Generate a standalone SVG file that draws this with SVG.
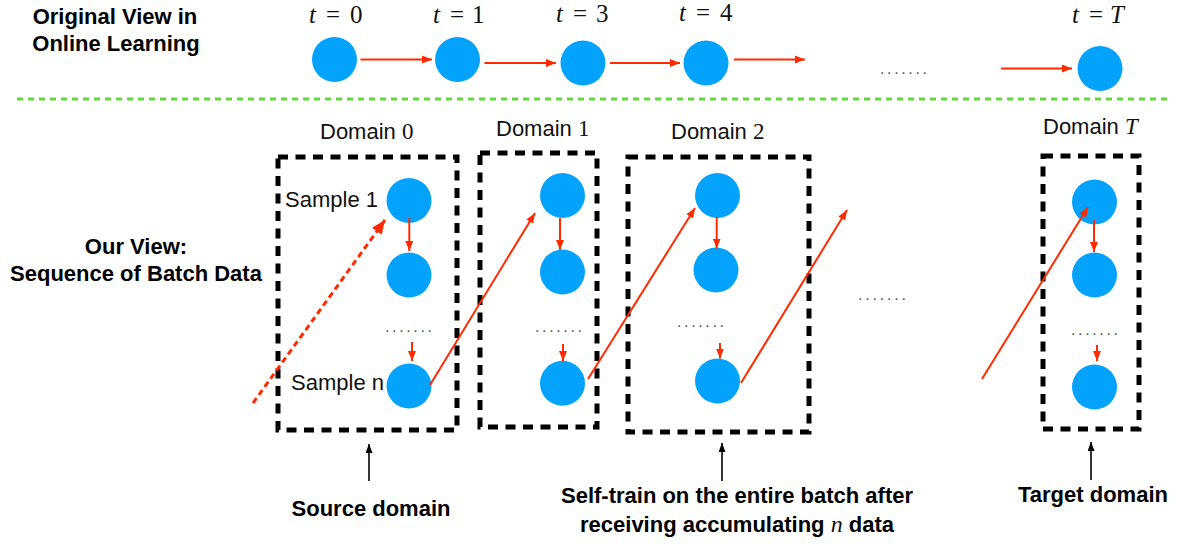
<svg xmlns="http://www.w3.org/2000/svg" width="1178" height="546" viewBox="0 0 1178 546">
<style>
.node{fill:#03a2fd}
.lbl{font-family:"Liberation Sans",Arial,sans-serif;font-size:22px;fill:#111}
.bold{font-family:"Liberation Sans",Arial,sans-serif;font-size:22px;font-weight:bold;fill:#000}
.math{font-family:"Liberation Serif","Times New Roman",serif;font-size:25px;fill:#111}
.mi{font-style:italic}
.dots{font-family:"Liberation Sans",Arial,sans-serif;font-size:16px;fill:#555}
.box{fill:none;stroke:#000;stroke-width:5;stroke-dasharray:10 7.5}
.red{stroke:#ff2a00;stroke-width:2;fill:none}
.redd{stroke:#ff2a00;stroke-width:3;fill:none;stroke-dasharray:6 4}
.blk{stroke:#000;stroke-width:1.6;fill:none}
</style>
<defs>
<marker id="ar" markerUnits="userSpaceOnUse" markerWidth="10" markerHeight="8" refX="10" refY="4" orient="auto"><path d="M0,0 L10,4 L0,8 z" fill="#ff2a00"/></marker>
<marker id="arb" markerUnits="userSpaceOnUse" markerWidth="14" markerHeight="12" refX="14" refY="6" orient="auto"><path d="M0,0 L14,6 L0,12 z" fill="#ff2a00"/></marker>
<marker id="ak" markerUnits="userSpaceOnUse" markerWidth="9" markerHeight="7" refX="9" refY="3.5" orient="auto"><path d="M0,0 L9,3.5 L0,7 z" fill="#000"/></marker>
</defs>

<g id="section-labels">
<text class="bold" x="115" y="24" text-anchor="middle">Original View in</text>
<text class="bold" x="116" y="51" text-anchor="middle">Online Learning</text>
<text class="bold" x="136" y="254" text-anchor="middle">Our View:</text>
<text class="bold" x="136" y="281" text-anchor="middle">Sequence of Batch Data</text>
</g>

<line id="divider" x1="17" y1="99" x2="1172" y2="99" stroke="#62d93a" stroke-width="3" stroke-dasharray="6 5"/>

<g id="online-t0"><circle class="node" cx="334.5" cy="59.5" r="22.5"/>
<text class="math" y="23"><tspan class="mi" x="309">t</tspan><tspan x="326">=</tspan><tspan x="350">0</tspan></text></g>
<g id="online-t1"><circle class="node" cx="457.5" cy="59.5" r="22.5"/>
<text class="math" y="23"><tspan class="mi" x="433">t</tspan><tspan x="450">=</tspan><tspan x="472">1</tspan></text></g>
<g id="online-t3"><circle class="node" cx="583" cy="63" r="22.5"/>
<text class="math" y="22"><tspan class="mi" x="556">t</tspan><tspan x="573">=</tspan><tspan x="596">3</tspan></text></g>
<g id="online-t4"><circle class="node" cx="706" cy="63" r="22.5"/>
<text class="math" y="21"><tspan class="mi" x="679">t</tspan><tspan x="696">=</tspan><tspan x="720">4</tspan></text></g>
<g id="online-tT"><circle class="node" cx="1100" cy="68.5" r="22.5"/>
<text class="math" y="23"><tspan class="mi" x="1072">t</tspan><tspan x="1089">=</tspan><tspan class="mi" x="1110">T</tspan></text></g>
<text id="online-dots" class="dots" x="880" y="74" textLength="47" lengthAdjust="spacing">.......</text>

<g id="domain0">
<rect class="box" x="278" y="157" width="179" height="273"/>
<text class="lbl" x="320" y="139">Domain <tspan class="math" style="font-size:23px">0</tspan></text>
<circle class="node" cx="409" cy="200.5" r="22.5"/>
<circle class="node" cx="409" cy="275" r="22.5"/>
<circle class="node" cx="409" cy="386" r="22.5"/>
<text class="lbl" x="378" y="207" text-anchor="end">Sample 1</text>
<text class="lbl" x="384" y="390" text-anchor="end">Sample n</text>
<text class="dots" x="385" y="332" textLength="47" lengthAdjust="spacing">.......</text>
</g>

<g id="domain1">
<rect class="box" x="480" y="153" width="117" height="274"/>
<text class="lbl" x="496" y="136">Domain <tspan class="math" style="font-size:23px">1</tspan></text>
<circle class="node" cx="562.5" cy="195.5" r="22.5"/>
<circle class="node" cx="562.5" cy="272" r="22.5"/>
<circle class="node" cx="562.5" cy="383.3" r="22.5"/>
<text class="dots" x="535" y="332" textLength="47" lengthAdjust="spacing">.......</text>
</g>

<g id="domain2">
<rect class="box" x="628" y="157" width="181" height="275"/>
<text class="lbl" x="671" y="139">Domain <tspan class="math" style="font-size:23px">2</tspan></text>
<circle class="node" cx="717.5" cy="195.5" r="22.5"/>
<circle class="node" cx="716" cy="270" r="22.5"/>
<circle class="node" cx="717.5" cy="381" r="22.5"/>
<text class="dots" x="677" y="327" textLength="47" lengthAdjust="spacing">.......</text>
</g>

<text id="middle-dots" class="dots" x="858" y="300" textLength="48" lengthAdjust="spacing">.......</text>

<g id="domainT">
<rect class="box" x="1043" y="156" width="96" height="273"/>
<text class="lbl" x="1043" y="134">Domain <tspan class="math mi" style="font-size:23px">T</tspan></text>
<circle class="node" cx="1094.5" cy="202" r="22.5"/>
<circle class="node" cx="1094.5" cy="275" r="22.5"/>
<circle class="node" cx="1094.5" cy="387" r="22.5"/>
<text class="dots" x="1071" y="335" textLength="47" lengthAdjust="spacing">.......</text>
</g>

<g id="bottom-labels">
<text class="bold" x="371" y="516" text-anchor="middle">Source domain</text>
<text class="bold" x="737" y="503" text-anchor="middle">Self-train on the entire batch after</text>
<text class="bold" x="737" y="532" text-anchor="middle">receiving accumulating <tspan class="math mi" style="font-size:24px;font-weight:normal">n</tspan> data</text>
<text class="bold" x="1093" y="502" text-anchor="middle">Target domain</text>
</g>

<g id="connectors">
<line class="red" x1="360.5" y1="59.5" x2="432" y2="59.5" marker-end="url(#ar)"/>
<line class="red" x1="484.5" y1="63" x2="556" y2="63" marker-end="url(#ar)"/>
<line class="red" x1="610" y1="63" x2="680" y2="63" marker-end="url(#ar)"/>
<line class="red" x1="734" y1="59.5" x2="805" y2="59.5" marker-end="url(#ar)"/>
<line class="red" x1="1001" y1="68.5" x2="1072" y2="68.5" marker-end="url(#ar)"/>

<line class="red" x1="409.3" y1="218" x2="409.3" y2="251" marker-end="url(#ar)"/>
<line class="red" x1="412" y1="342" x2="412" y2="361" marker-end="url(#ar)"/>
<line class="red" x1="560" y1="218" x2="560" y2="250" marker-end="url(#ar)"/>
<line class="red" x1="563" y1="344" x2="563" y2="361" marker-end="url(#ar)"/>
<line class="red" x1="716.7" y1="217" x2="716.7" y2="248.5" marker-end="url(#ar)"/>
<line class="red" x1="720" y1="343" x2="720" y2="358.5" marker-end="url(#ar)"/>
<line class="red" x1="1094" y1="220" x2="1094" y2="252" marker-end="url(#ar)"/>
<line class="red" x1="1097" y1="345" x2="1097" y2="361" marker-end="url(#ar)"/>

<line class="redd" x1="253" y1="403" x2="385" y2="220" marker-end="url(#arb)"/>
<line class="red" x1="430" y1="385" x2="535" y2="213" marker-end="url(#ar)"/>
<line class="red" x1="588" y1="379" x2="695" y2="208" marker-end="url(#ar)"/>
<line class="red" x1="741" y1="383" x2="847" y2="210" marker-end="url(#ar)"/>
<line class="red" x1="982" y1="379" x2="1088" y2="207" marker-end="url(#ar)"/>

<line class="blk" x1="369" y1="481" x2="369" y2="444" marker-end="url(#ak)"/>
<line class="blk" x1="722" y1="481" x2="722" y2="443" marker-end="url(#ak)"/>
<line class="blk" x1="1091" y1="480" x2="1091" y2="442" marker-end="url(#ak)"/>
</g>
</svg>
